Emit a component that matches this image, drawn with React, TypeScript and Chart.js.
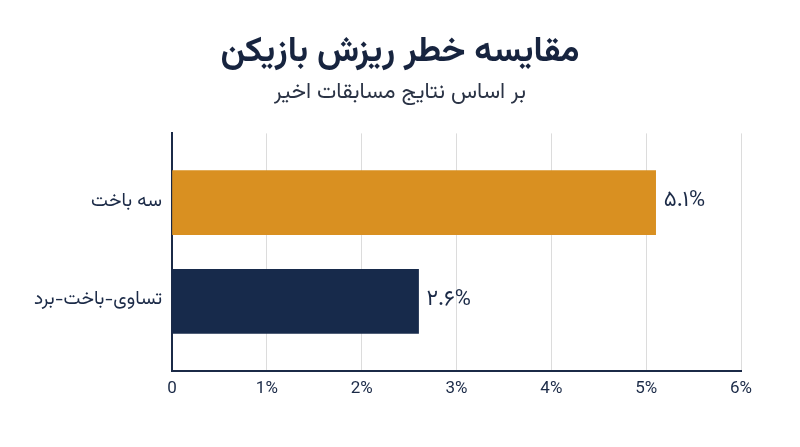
import React, { useEffect, useRef } from "react";
import { Chart, registerables } from "chart.js";

Chart.register(...registerables);

const TITLE = "مقایسه خطر ریزش بازیکن";
const SUBTITLE = "بر اساس نتایج مسابقات اخیر";
const categories = ["سه باخت", "تساوی-باخت-برد"];
const values = [5.1, 2.6];
const barColors = ["#D99021", "#172A4B"];
const xTicks = [0, 1, 2, 3, 4, 5, 6];

const NAVY = "#1B2A47";
const FA_FONT = "Vazirmatn, 'Noto Sans Arabic', 'DejaVu Sans', sans-serif";
const LATIN_FONT = "Roboto, 'DejaVu Sans', sans-serif";

const toPersianDigits = (s: string) =>
  s.replace(/[0-9]/g, (d) => "۰۱۲۳۴۵۶۷۸۹"[Number(d)]);

const valueLabels = {
  id: "valueLabels",
  afterDatasetsDraw(chart: any) {
    const ctx = chart.ctx;
    const meta = chart.getDatasetMeta(0);
    ctx.save();
    ctx.font = `22px ${FA_FONT}`;
    ctx.fillStyle = NAVY;
    ctx.textAlign = "left";
    ctx.textBaseline = "middle";
    meta.data.forEach((el: any, i: number) => {
      const txt = toPersianDigits(values[i].toFixed(1)) + "%";
      ctx.fillText(txt, el.x + 8, el.y);
    });
    ctx.restore();
  },
};

export default function App() {
  const ref = useRef<HTMLCanvasElement>(null);
  useEffect(() => {
    if (!ref.current) return;
    const chart = new Chart(ref.current, {
      type: "bar",
      data: {
        datasets: [
          {
            data: values.map((v, i) => ({ x: v, y: i })),
            backgroundColor: barColors,
            borderWidth: 0,
            barThickness: 64,
          },
        ],
      },
      options: {
        indexAxis: "y",
        animation: false,
        responsive: true,
        maintainAspectRatio: false,
        layout: { padding: { left: 20, right: 20, bottom: 40, top: 0 } },
        plugins: {
          legend: { display: false },
          tooltip: { enabled: false },
          title: {
            display: true,
            text: TITLE,
            color: "#17243F",
            font: { family: FA_FONT, size: 35, weight: "bold" },
            padding: { top: 35, bottom: 4 },
          },
          subtitle: {
            display: true,
            text: SUBTITLE,
            color: "#2A3345",
            font: { family: FA_FONT, size: 22, weight: "normal" },
            padding: { top: 0, bottom: 26 },
          },
        },
        scales: {
          x: {
            type: "linear",
            min: 0,
            max: 6,
            afterBuildTicks: (scale: any) => {
              scale.ticks = xTicks.map((v) => ({ value: v }));
            },
            ticks: {
              color: NAVY,
              font: { family: LATIN_FONT, size: 17 },
              padding: 8,
              callback: (v: any) => (Number(v) === 0 ? "0" : `${v}%`),
            },
            grid: { color: "#DCDCDC", lineWidth: 1, drawTicks: false },
            border: { display: true, color: NAVY, width: 2 },
          },
          y: {
            type: "linear",
            position: "left",
            min: -0.7,
            max: 1.7,
            reverse: true,
            offset: false,
            afterBuildTicks: (scale: any) => {
              scale.ticks = categories.map((_, i) => ({ value: i }));
            },
            afterFit: (scale: any) => {
              scale.width = 152;
            },
            ticks: {
              color: NAVY,
              font: { family: FA_FONT, size: 19 },
              padding: 10,
              callback: (v: any) => categories[Number(v)] ?? "",
            },
            grid: { display: false, drawTicks: false, offset: false },
            border: { display: true, color: NAVY, width: 2 },
          },
          ySpacer: {
            type: "linear",
            position: "right",
            display: true,
            afterFit: (scale: any) => {
              scale.width = 39;
            },
            ticks: { display: false },
            grid: { display: false, drawTicks: false },
            border: { display: false },
          },
        },
      },
      plugins: [valueLabels],
    });
    return () => chart.destroy();
  }, []);

  return (
    <div
      style={{
        position: "fixed",
        left: 0,
        top: 0,
        width: 800,
        height: 447,
        background: "#fff",
      }}
    >
      <canvas ref={ref} />
    </div>
  );
}
